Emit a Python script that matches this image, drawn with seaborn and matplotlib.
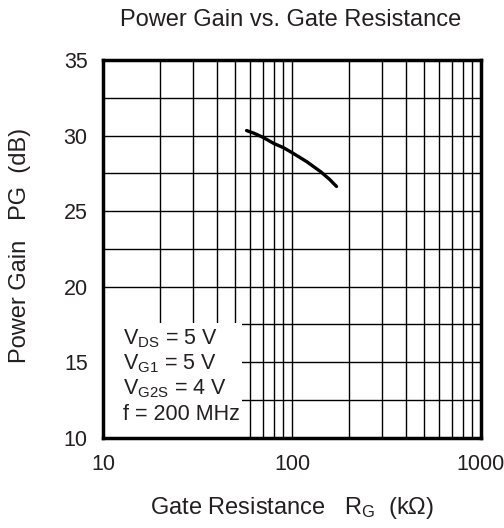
import matplotlib
matplotlib.use("Agg")
import matplotlib.pyplot as plt
import seaborn as sns
import pandas as pd
from matplotlib.patches import Rectangle
from matplotlib.ticker import FixedLocator, NullFormatter

# Data
gate_resistance_kohm = [57.5, 63, 70, 80, 90, 100, 120, 142, 158, 172]
power_gain_db = [30.33, 30.15, 29.89, 29.48, 29.2, 28.87, 28.26, 27.6, 27.1, 26.63]
x_ticks = [10, 100, 1000]
x_tick_labels = ["10", "100", "1000"]
y_ticks = [10, 15, 20, 25, 30, 35]
conditions = [r"$\mathregular{V_{DS}}$ = 5 V", r"$\mathregular{V_{G1}}$ = 5 V",
              r"$\mathregular{V_{G2S}}$ = 4 V", "f = 200 MHz"]

sns.set_theme(style="white")
plt.rcParams['font.family'] = ['Liberation Sans', 'DejaVu Sans']
plt.rcParams['mathtext.fontset'] = 'custom'
plt.rcParams['mathtext.rm'] = 'Liberation Sans'
plt.rcParams['mathtext.it'] = 'Liberation Sans'
TXT = "#231f20"

fig = plt.figure(figsize=(5.04, 5.28), dpi=100)
ax = fig.add_axes([103/504, 1-437.7/528, 378/504, 377.7/528])

df = pd.DataFrame({"RG": gate_resistance_kohm, "PG": power_gain_db})
sns.lineplot(data=df, x="RG", y="PG", ax=ax, color="black", linewidth=2.4, zorder=4)
ax.set_xscale("log")
ax.set_xlim(10, 1000)
ax.set_ylim(10, 35)

ax.xaxis.set_major_locator(FixedLocator(x_ticks))
ax.set_xticklabels(x_tick_labels)
minor_x = [m * d for d in (10, 100) for m in range(2, 10)]
ax.xaxis.set_minor_locator(FixedLocator(minor_x))
ax.xaxis.set_minor_formatter(NullFormatter())
ax.yaxis.set_major_locator(FixedLocator(y_ticks))
ax.yaxis.set_minor_locator(FixedLocator([12.5, 17.5, 22.5, 27.5, 32.5]))

ax.grid(True, which="both", color="black", linewidth=1.0)
ax.set_axisbelow(True)
ax.tick_params(which="both", length=0, labelsize=15.5, labelcolor=TXT)
ax.tick_params(axis="y", pad=11)
ax.tick_params(axis="x", pad=12)
for s in ax.spines.values():
    s.set_linewidth(2.5)
    s.set_color("black")
    s.set_zorder(6)
ax.set_xlabel("")
ax.set_ylabel("")

ax.add_patch(Rectangle((0, 0), 0.368, 0.304, transform=ax.transAxes,
                       facecolor="white", edgecolor="none", zorder=3))
for i, line in enumerate(conditions):
    y_px = 323 + 16 + i * 25
    fig.text(123/504, 1 - y_px/528, line, fontsize=15.5, color=TXT,
             ha="left", va="center", zorder=7)

fig.text(291/504, 1 - 20/528, "Power Gain vs. Gate Resistance", fontsize=17,
         color=TXT, ha="center", va="center")
fig.text(292/504, 1 - 508/528, r"Gate Resistance   $\mathregular{R_G}$  (kΩ)",
         fontsize=17, color=TXT, ha="center", va="center")
fig.text(20/504, 1 - 245/528, "Power Gain   PG  (dB)", fontsize=17, color=TXT,
         ha="center", va="center", rotation=90)

fig.savefig("out.png", dpi=100, facecolor="white")
